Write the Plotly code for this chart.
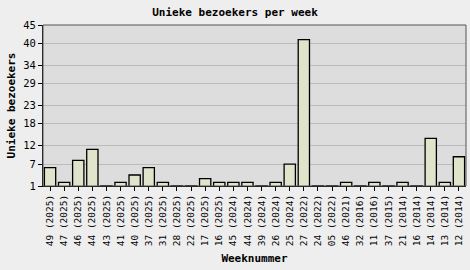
import plotly.graph_objects as go

weeks = ["49 (2025)", "47 (2025)", "46 (2025)", "44 (2025)", "43 (2025)", "41 (2025)",
         "40 (2025)", "37 (2025)", "31 (2025)", "28 (2025)", "22 (2025)", "17 (2025)",
         "16 (2025)", "45 (2024)", "44 (2024)", "39 (2024)", "26 (2024)", "25 (2024)",
         "27 (2022)", "24 (2022)", "05 (2022)", "46 (2021)", "32 (2016)", "11 (2016)",
         "37 (2015)", "21 (2014)", "16 (2014)", "14 (2014)", "13 (2014)", "12 (2014)"]
visitors = [6, 2, 8, 11, 1, 2, 4, 6, 2, 1, 1, 3, 2, 2, 2, 1, 2, 7, 41, 1, 1, 2, 1, 2, 1, 2, 1, 14, 2, 9]
ytick_vals = [1, 7, 12, 18, 23, 29, 34, 40, 45]

font = "DejaVu Sans Mono"

fig = go.Figure(go.Bar(
    x=weeks, y=visitors,
    marker=dict(color="#DFE4CA", line=dict(color="#000000", width=1.3)),
))

fig.update_layout(
    width=470, height=270,
    margin=dict(l=43, r=4, t=25, b=84),
    paper_bgcolor="#EEEEEE", plot_bgcolor="#DDDDDD",
    bargap=0.2,
    showlegend=False,
    title=dict(text="<b>Unieke bezoekers per week</b>", x=0.5, xanchor="center",
               y=0.955, yanchor="middle", font=dict(family=font, size=11, color="#000")),
    font=dict(family=font, size=10, color="#000"),
)
fig.update_xaxes(
    type="category", tickangle=-90, tickfont=dict(family=font, size=9.5),
    ticks="outside", ticklen=4, tickcolor="#000",
    showline=True, linecolor="#000", mirror=False, showgrid=False,
    title=dict(text="<b>Weeknummer</b>", font=dict(family=font, size=11), standoff=9),
)
fig.update_yaxes(
    range=[1, 45], tickvals=ytick_vals, ticktext=[str(v) for v in ytick_vals],
    tickfont=dict(family=font, size=10.5),
    ticks="outside", ticklen=4, tickcolor="#000",
    showline=True, linecolor="#000",
    showgrid=True, gridcolor="#BBBBBB", gridwidth=1, zeroline=False,
    title=dict(text="<b>Unieke bezoekers</b>", font=dict(family=font, size=11), standoff=5),
)
# plot frame
fig.add_shape(type="rect", xref="paper", yref="paper", x0=0, y0=0, x1=1, y1=1,
              line=dict(color="#555555", width=1))

fig.write_html("out.html")
